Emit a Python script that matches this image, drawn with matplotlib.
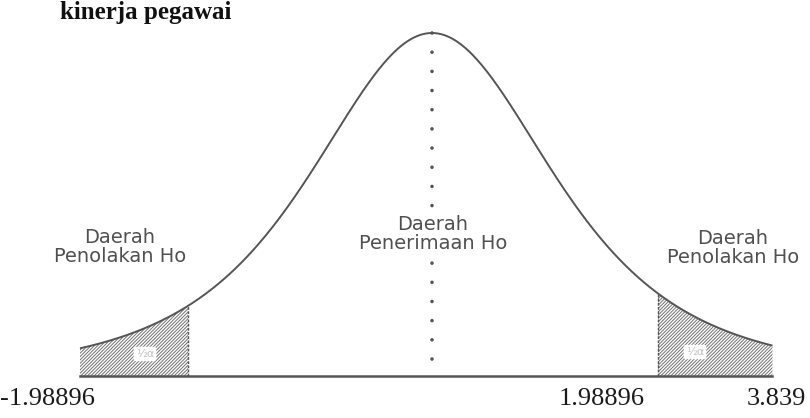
import math
import numpy as np
import matplotlib
matplotlib.use("Agg")
import matplotlib.pyplot as plt

# curve shape (t distribution) and region limits, in t units
df = 3
curve_left, curve_right = -2.75, 2.66
crit_left, crit_right = -1.906, 1.766

region_labels = ["Daerah\nPenolakan Ho", "Daerah\nPenerimaan Ho", "Daerah\nPenolakan Ho"]
tick_labels = ["-1.98896", "1.98896", "3.839"]
alpha_label = "½α"
top_text = "kinerja pegawai"


def t_pdf(x, v):
    c = math.gamma((v + 1) / 2) / (math.sqrt(v * math.pi) * math.gamma(v / 2))
    return c * (1 + x ** 2 / v) ** (-(v + 1) / 2)


W, H = 810, 418
fig = plt.figure(figsize=(W / 100, H / 100), dpi=100)
ax = fig.add_axes([0, 0, 1, 1])
ax.axis("off")

# pixel mapping: peak at x=432px, 128 px per unit; baseline at 376px
sx, cx = 128.0, 432.0
peak = t_pdf(0, df)
sy = (376 - 33) / peak
ax.set_xlim(-cx / sx, (W - cx) / sx)
ax.set_ylim(-(H - 376) / sy, 376 / sy)

plt.rcParams["hatch.linewidth"] = 0.7
plt.rcParams["hatch.color"] = "#707070"

x = np.linspace(curve_left, curve_right, 600)
y = t_pdf(x, df)
ax.plot(x, y, color="#555555", lw=1.4, solid_capstyle="butt")
ax.plot([curve_left, curve_right], [0, 0], color="#555555", lw=1.8)

for lo, hi in [(curve_left, crit_left), (crit_right, curve_right)]:
    xs = np.linspace(lo, hi, 200)
    ax.fill_between(xs, 0, t_pdf(xs, df), facecolor="white",
                    edgecolor="#707070", hatch="//////////", lw=0)
    edge = hi if lo == curve_left else lo
    ax.plot([edge, edge], [0, t_pdf(edge, df)],
            color="#555555", lw=1.0, ls=(0, (2, 1)))

# dotted center line
ax.plot([0, 0], [peak, 16 / sy], color="#555555", lw=2.6,
        ls=(0, (0.01, 5.3)), dash_capstyle="round")

# small alpha labels inside the tails
for px, py in [(145, 354), (695, 352)]:
    fig.text(px / W, 1 - py / H, alpha_label, ha="center", va="center",
             fontsize=8, color="#c0c0c0",
             bbox=dict(boxstyle="round,pad=0.2", fc="white", ec="none"))

sans = ["DejaVu Sans"]
for (px, py), lab in zip([(120, 247), (433, 234), (733, 248)], region_labels):
    fig.text(px / W, 1 - py / H, lab, ha="center", va="center",
             fontsize=14, color="#505050", linespacing=0.95, family=sans,
             bbox=dict(boxstyle="square,pad=0.15", fc="white", ec="none"))

serif = ["Liberation Serif", "DejaVu Serif"]
for (px, ha), lab in zip([(0, "left"), (645, "right"), (806, "right")], tick_labels):
    fig.text(px / W, 1 - 405 / H, lab, ha=ha, va="baseline",
             fontsize=19, color="#1a1a1a", family=serif)

fig.text(60 / W, 1 - 19 / H, top_text, ha="left", va="baseline",
         fontsize=18, fontweight="bold", color="#111111", family=serif)

fig.savefig("out.png", dpi=100)
